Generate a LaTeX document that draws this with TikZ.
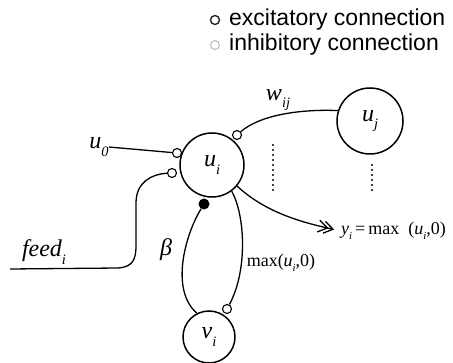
\documentclass[tikz,border=0pt]{standalone}
\usepackage{fontspec}
\setmainfont{Liberation Serif}
\newfontfamily\legendfont{Liberation Sans}
\usetikzlibrary{arrows.meta}
% subscript scaled relative to the surrounding text
\newcommand\sbs[1]{\raisebox{-0.3em}{\scalebox{0.6}{#1}}}
\begin{document}
\begin{tikzpicture}[x=1pt,y=-1pt,
  neuron/.style={circle, draw, line width=1.5pt, minimum size=#1, inner sep=0pt,
    font=\fontsize{24}{26}\selectfont\itshape},
  neuron/.default=64pt,
  syn/.style={circle, draw, line width=1.1pt, minimum size=9pt, inner sep=0pt, fill=white},
  synfill/.style={circle, fill=black, minimum size=11pt, inner sep=0pt},
  wire/.style={line width=1.3pt},
  lbl/.style={font=\fontsize{24}{26}\selectfont\itshape, inner sep=0pt},
  mlbl/.style={font=\fontsize{18}{20}\selectfont, inner sep=0pt},
  legendtext/.style={font=\legendfont\fontsize{23}{26}\selectfont, inner sep=0pt, anchor=base west},
  dotcol/.style={line width=2.4pt, line cap=round, dash pattern=on 0pt off 5pt}
]
\useasboundingbox (0,0) rectangle (453,363);

% legend
\node[syn, draw=black!85, line width=1.4pt] (lgex) at (215,20) {};
\node[syn, draw=black!25] (lgin) at (215,45) {};
\node[legendtext] (lgext) at (229,26) {excitatory connection};
\node[legendtext] (lgint) at (229,51) {inhibitory connection};

% neurons
\node[neuron] (ui) at (212,165) {u\sbs{i}};
\node[neuron=66pt] (uj) at (370,121) {u\sbs{j}};
\node[neuron=52pt] (vi) at (209,337) {ν\sbs{i}};

% synapses
\node[syn] (c0) at (177,153) {};
\node[syn] (cf) at (172,173) {};
\node[syn] (cw) at (237,135) {};
\node[synfill] (cb) at (204,204) {};
\node[syn] (cm) at (227,309) {};

% labels
\node[lbl] (u0) at (99,147) {u\sbs{0}};
\node[lbl] (wij) at (278,100) {w\sbs{ij}};
\node[lbl] (feed) at (44,252) {feed\sbs{i}};
\node[lbl] (beta) at (166,250) {β};
\node[mlbl] (maxl) at (281,263) {max(\textit{u}\sbs{\textit{i}},0)};
\node[mlbl, anchor=west] (yout) at (341,231)
  {\textit{y}\sbs{\textit{i}}\,=\,max\ \ (\textit{u}\sbs{\textit{i}},0)};
\coordinate (feedstart) at (10,269);

% connections
\draw[wire] (u0.east) -- (c0);
\draw[wire] (feedstart) -- (118,268) .. controls (134,267) and (136,258) .. (136,245)
  -- (136,203) .. controls (136,182) and (152,174) .. (cf);
\draw[wire] (cb) .. controls (185,235) and (170,290) .. (vi.117);
\draw[wire] (ui.-53) .. controls (245,215) and (248,270) .. (cm);
\draw[wire] (uj.162) .. controls (300,109) and (260,115) .. (cw);
\draw[wire, shorten >=7pt,
  -{Straight Barb[length=9pt,width=12pt,sep=-5pt]Straight Barb[length=9pt,width=12pt]}]
  (ui.-40) .. controls (265,212) and (300,222) .. (yout.west);

% dotted columns
\draw[dotcol] (273,145) -- (273,193);
\draw[dotcol] (372,165) -- (372,193);
\end{tikzpicture}
\end{document}
